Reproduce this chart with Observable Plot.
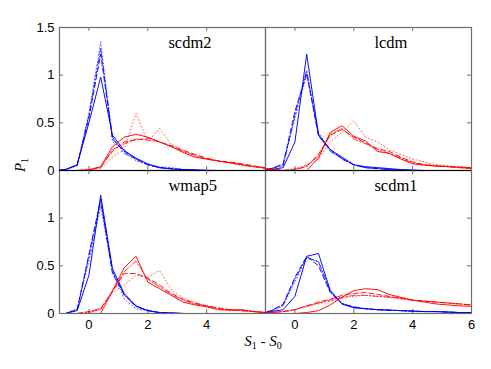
<!DOCTYPE html>
<html><head><meta charset="utf-8">
<script src="https://cdn.jsdelivr.net/npm/d3@7"></script>
<script src="https://cdn.jsdelivr.net/npm/@observablehq/plot@0.6"></script>
<style>body{margin:0;background:#fff}</style>
</head><body><div id="chart"></div>
<script>
// bin centres of S1 - S0
const xs = [-1.2,-0.8,-0.4,0,0.4,0.8,1.2,1.6,2.0,2.4,2.8,3.2,3.6,4.0,4.4,4.8,5.2,5.6,6.0];

// scdm2
const scdm2_blue_solid   = [0,0.01,0.06,0.5,0.98,0.37,0.21,0.13,0.07,0.03,0.015,0.01,0.005,0.003,0,0,0,0,0];
const scdm2_blue_dash    = [0,0.01,0.06,0.55,1.22,0.33,0.2,0.12,0.06,0.03,0.02,0.01,0.005,0,0,0,0,0,0];
const scdm2_blue_dashdot = [0,0.01,0.05,0.58,1.28,0.35,0.18,0.12,0.06,0.03,0.02,0.01,0.005,0,0,0,0,0,0];
const scdm2_blue_dot     = [0,0.01,0.05,0.6,1.35,0.3,0.22,0.1,0.06,0.04,0.03,0.01,0.005,0,0,0,0,0,0];
const scdm2_red_solid    = [0,0,0,0,0.04,0.25,0.35,0.38,0.35,0.3,0.25,0.19,0.14,0.12,0.1,0.08,0.06,0.04,0.03];
const scdm2_red_dash     = [0,0,0,0.01,0.04,0.2,0.3,0.32,0.34,0.3,0.26,0.21,0.17,0.13,0.1,0.09,0.07,0.05,0.02];
const scdm2_red_dashdot  = [0,0,0,0.01,0.03,0.22,0.28,0.33,0.32,0.3,0.25,0.2,0.16,0.12,0.1,0.08,0.06,0.04,0.03];
const scdm2_red_dot      = [0,0,0,0.01,0.02,0.14,0.22,0.6,0.3,0.44,0.27,0.22,0.15,0.12,0.1,0.08,0.05,0.04,0.02];

// lcdm
const lcdm_blue_solid   = [0,0.01,0.03,0.3,1.22,0.38,0.22,0.14,0.06,0.04,0.03,0.02,0.01,0.005,0,0,0,0,0];
const lcdm_blue_dash    = [0,0.02,0.07,0.62,1.02,0.36,0.22,0.12,0.06,0.03,0.02,0.01,0.005,0,0,0,0,0,0];
const lcdm_blue_dashdot = [0,0.02,0.05,0.58,1.05,0.37,0.2,0.13,0.06,0.03,0.02,0.01,0.005,0,0,0,0,0,0];
const lcdm_blue_dot     = [0,0.02,0.06,0.55,1.0,0.4,0.21,0.12,0.06,0.03,0.02,0.01,0.005,0,0,0,0,0,0];
const lcdm_red_solid    = [0.03,0.01,0,0,0,0.13,0.4,0.47,0.36,0.31,0.2,0.18,0.12,0.07,0.055,0.045,0.04,0.035,0.03];
const lcdm_red_dash     = [0.03,0.01,0,0.01,0.04,0.17,0.37,0.43,0.35,0.29,0.23,0.2,0.14,0.09,0.06,0.05,0.04,0.03,0.02];
const lcdm_red_dashdot  = [0.02,0.01,0,0.01,0.05,0.15,0.38,0.44,0.33,0.28,0.22,0.18,0.13,0.08,0.06,0.05,0.04,0.03,0.02];
const lcdm_red_dot      = [0.02,0.01,0,0.02,0.06,0.12,0.3,0.4,0.52,0.35,0.3,0.22,0.17,0.12,0.09,0.06,0.05,0.04,0.03];

// wmap5
const wmap5_blue_solid   = [0,0,0.03,0.4,1.24,0.47,0.21,0.08,0.03,0.01,0.005,0,0,0,0,0,0,0,0];
const wmap5_blue_dash    = [0,0,0.04,0.62,1.2,0.42,0.2,0.08,0.03,0.01,0.005,0,0,0,0,0,0,0,0];
const wmap5_blue_dashdot = [0,0,0.04,0.6,1.18,0.44,0.19,0.07,0.03,0.01,0.005,0,0,0,0,0,0,0,0];
const wmap5_blue_dot     = [0,0,0.05,0.55,1.12,0.45,0.15,0.05,0.03,0.01,0.005,0,0,0,0,0,0,0,0];
const wmap5_red_solid    = [0,0,0,0,0,0.24,0.48,0.6,0.33,0.26,0.19,0.12,0.09,0.07,0.04,0.035,0.04,0.02,0.01];
const wmap5_red_dash     = [0,0,0,0.02,0.05,0.23,0.42,0.42,0.37,0.3,0.21,0.15,0.11,0.08,0.06,0.04,0.03,0.02,0.01];
const wmap5_red_dashdot  = [0,0,0,0.01,0.04,0.24,0.44,0.55,0.36,0.28,0.2,0.14,0.1,0.08,0.05,0.04,0.03,0.02,0.01];
const wmap5_red_dot      = [0,0,0,0.02,0.06,0.22,0.3,0.4,0.38,0.45,0.25,0.16,0.12,0.07,0.05,0.03,0.03,0.02,0.01];

// scdm1
const scdm1_blue_solid   = [0,0.02,0.04,0.18,0.6,0.63,0.24,0.1,0.06,0.05,0.04,0.035,0.03,0.025,0.02,0.02,0.015,0.01,0.01];
const scdm1_blue_dash    = [0,0.03,0.1,0.38,0.6,0.5,0.22,0.1,0.07,0.05,0.04,0.035,0.03,0.025,0.02,0.02,0.015,0.01,0.01];
const scdm1_blue_dashdot = [0,0.03,0.09,0.36,0.59,0.54,0.23,0.1,0.06,0.05,0.04,0.035,0.03,0.025,0.02,0.02,0.015,0.01,0.01];
const scdm1_blue_dot     = [0,0.02,0.08,0.33,0.58,0.55,0.25,0.11,0.07,0.05,0.04,0.035,0.03,0.025,0.02,0.02,0.015,0.01,0.01];
const scdm1_red_solid    = [0,0,0,0,0.01,0.03,0.09,0.17,0.24,0.26,0.25,0.2,0.17,0.14,0.12,0.1,0.09,0.08,0.075];
const scdm1_red_dash     = [0,0.01,0.02,0.04,0.08,0.12,0.15,0.19,0.21,0.22,0.2,0.18,0.16,0.14,0.13,0.12,0.11,0.1,0.09];
const scdm1_red_dashdot  = [0,0.01,0.02,0.04,0.08,0.11,0.14,0.17,0.19,0.19,0.18,0.17,0.16,0.14,0.13,0.12,0.11,0.1,0.09];
const scdm1_red_dot      = [0,0.01,0.02,0.04,0.07,0.1,0.13,0.16,0.18,0.19,0.18,0.17,0.15,0.14,0.13,0.12,0.11,0.1,0.09];

const panels = ["scdm2","lcdm","wmap5","scdm1"];
const panelCol = {scdm2:"L", lcdm:"R", wmap5:"L", scdm1:"R"};
const panelRow = {scdm2:"T", lcdm:"T", wmap5:"B", scdm1:"B"};
const colors = ["blue","red"];
const styles = ["solid","dash","dashdot","dot"];
const yTickLabelsTop = [0,0.5,1,1.5];
const yTickLabelsBottom = [0,0.5,1];
const xTickLabelsLeft = [0,2,4];
const xTickLabelsRight = [0,2,4,6];
const innerXTicks = [0,2,4];
const innerYTicks = [0.5,1];

const seriesTable = {
  scdm2:{blue:{solid:scdm2_blue_solid,dash:scdm2_blue_dash,dashdot:scdm2_blue_dashdot,dot:scdm2_blue_dot},
         red:{solid:scdm2_red_solid,dash:scdm2_red_dash,dashdot:scdm2_red_dashdot,dot:scdm2_red_dot}},
  lcdm:{blue:{solid:lcdm_blue_solid,dash:lcdm_blue_dash,dashdot:lcdm_blue_dashdot,dot:lcdm_blue_dot},
        red:{solid:lcdm_red_solid,dash:lcdm_red_dash,dashdot:lcdm_red_dashdot,dot:lcdm_red_dot}},
  wmap5:{blue:{solid:wmap5_blue_solid,dash:wmap5_blue_dash,dashdot:wmap5_blue_dashdot,dot:wmap5_blue_dot},
         red:{solid:wmap5_red_solid,dash:wmap5_red_dash,dashdot:wmap5_red_dashdot,dot:wmap5_red_dot}},
  scdm1:{blue:{solid:scdm1_blue_solid,dash:scdm1_blue_dash,dashdot:scdm1_blue_dashdot,dot:scdm1_blue_dot},
         red:{solid:scdm1_red_solid,dash:scdm1_red_dash,dashdot:scdm1_red_dashdot,dot:scdm1_red_dot}}
};

const data = [];
for (const p of panels) for (const c of colors) for (const s of styles) {
  seriesTable[p][c][s].forEach((v,i) => data.push({x: xs[i], y: v, panel: p, color: c, style: s,
    key: p + "-" + c + "-" + s, col: panelCol[p], row: panelRow[p]}));
}

const facets = panels.map(p => ({panel: p, col: panelCol[p], row: panelRow[p]}));
const xT = facets.flatMap(f => innerXTicks.map(v => ({...f, v})));
const yT = facets.flatMap(f => innerYTicks.map(v => ({...f, v})));
const yLab = [...yTickLabelsTop.map(v => ({col:"L", row:"T", v})), ...yTickLabelsBottom.map(v => ({col:"L", row:"B", v}))];
const xLab = [...xTickLabelsLeft.map(v => ({col:"L", row:"B", v})), ...xTickLabelsRight.map(v => ({col:"R", row:"B", v}))];
const topZero = facets.filter(f => f.row === "T");

const dashes = {solid: null, dash: "5,3", dashdot: "6,2,1.5,2", dot: "1,2.5"};
const widths = {solid: 1, dash: 1, dashdot: 0.9, dot: 0.9};
const opac = {solid: 0.95, dash: 0.9, dashdot: 0.85, dot: 0.7};
const tickLenX = 4 / 29.4, tickLenY = 4 / 95.3;
const frameColor = "#6e6e6e";

const lineMarks = [];
for (const c of colors) for (const s of styles) {
  lineMarks.push(Plot.line(data.filter(d => d.color === c && d.style === s), {
    x: "x", y: "y", z: "key", stroke: "color", fx: "col", fy: "row",
    strokeWidth: widths[s], strokeOpacity: opac[s], strokeDasharray: dashes[s], clip: true
  }));
}

const chart = Plot.plot({
  width: 491, height: 369,
  marginLeft: 59, marginRight: 20, marginTop: 27, marginBottom: 56,
  style: {background: "white", fontFamily: "'Liberation Sans', Arial, sans-serif", fontSize: "13px", color: "black"},
  x: {domain: [-1, 6], axis: null},
  y: {domain: [0, 1.5], axis: null},
  fx: {domain: ["L","R"], padding: 0, axis: null},
  fy: {domain: ["T","B"], padding: 0, axis: null},
  color: {domain: ["blue","red"], range: ["#3a5cff", "#ff2020"]},
  marks: [
    Plot.frame({stroke: frameColor, strokeWidth: 1.2}),
    Plot.ruleY(topZero, {y: 0, fx: "col", fy: "row", stroke: "black", strokeWidth: 1.2}),
    Plot.ruleX(xT, {x: "v", y1: 0, y2: tickLenY, fx: "col", fy: "row", stroke: frameColor}),
    Plot.ruleX(xT, {x: "v", y1: 1.5 - tickLenY, y2: 1.5, fx: "col", fy: "row", stroke: frameColor}),
    Plot.ruleY(yT, {y: "v", x1: -1, x2: -1 + tickLenX, fx: "col", fy: "row", stroke: frameColor}),
    Plot.ruleY(yT, {y: "v", x1: 6 - tickLenX, x2: 6, fx: "col", fy: "row", stroke: frameColor}),
    ...lineMarks,
    Plot.text(yLab, {x: -1, y: "v", text: d => String(d.v), fx: "col", fy: "row", textAnchor: "end", dx: -5, fontSize: 13, fill: "black"}),
    Plot.text(xLab, {x: "v", y: 0, text: d => String(d.v), fx: "col", fy: "row", lineAnchor: "top", dy: 6, fontSize: 13, fill: "black"}),
    Plot.text(facets, {x: 2.7, y: 1.29, text: "panel", fx: "col", fy: "row", textAnchor: "start", lineAnchor: "bottom",
      fontFamily: "'Liberation Serif', 'DejaVu Serif', serif", fontSize: 16.5, fill: "black", style: "letter-spacing:1px"})
  ]
});

const svg = d3.select(chart);
// y-axis label P_1
const yl = svg.append("text")
  .attr("transform", "translate(25,165) rotate(-90)")
  .attr("text-anchor", "middle")
  .attr("font-family", "'Liberation Serif', serif")
  .attr("font-size", 15).attr("fill", "black");
yl.append("tspan").attr("font-style", "italic").text("P");
yl.append("tspan").attr("font-size", 10).attr("dy", 3).text("1");
// x-axis label S_1 - S_0
const xl = svg.append("text")
  .attr("x", 263).attr("y", 346)
  .attr("text-anchor", "middle")
  .attr("font-family", "'Liberation Serif', serif")
  .attr("font-size", 15).attr("fill", "black");
xl.append("tspan").attr("font-style", "italic").text("S");
xl.append("tspan").attr("font-size", 10).attr("dy", 3).text("1");
xl.append("tspan").attr("dy", -3).text(" - ");
xl.append("tspan").attr("font-style", "italic").text("S");
xl.append("tspan").attr("font-size", 10).attr("dy", 3).text("0");

document.getElementById("chart").appendChild(chart);
</script>
</body></html>
